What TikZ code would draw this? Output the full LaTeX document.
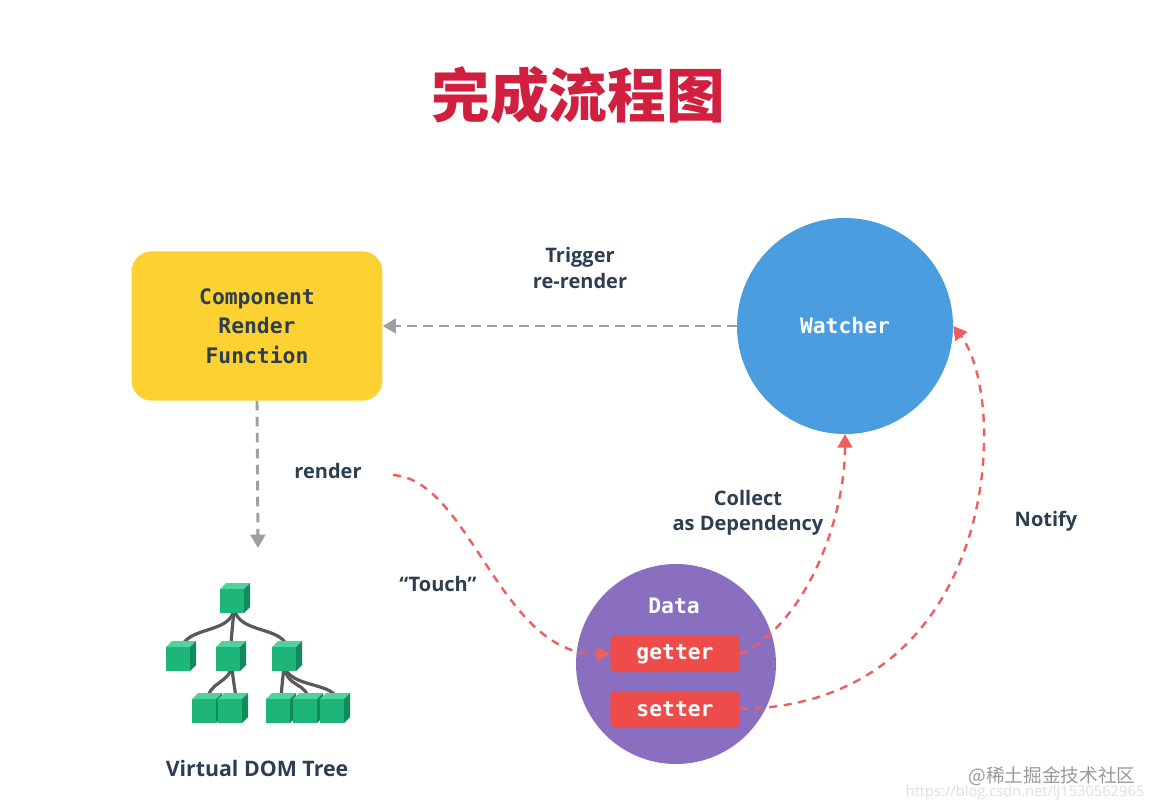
\documentclass[tikz,border=0pt]{standalone}
\usepackage{fontspec}
\setmainfont{Open Sans}
\newfontfamily\cjk{Noto Sans CJK SC}
\newfontfamily\monof{DejaVu Sans Mono}
\usetikzlibrary{arrows.meta}
\definecolor{navy}{HTML}{2C3E50}
\definecolor{ttl}{HTML}{D1203F}
\definecolor{ylw}{HTML}{FCD232}
\definecolor{blu}{HTML}{4A9DDF}
\definecolor{pur}{HTML}{8A6FC1}
\definecolor{rd}{HTML}{EE4B4B}
\definecolor{grn}{HTML}{1DB57A}
\definecolor{grnt}{HTML}{4FD39C}
\definecolor{grnd}{HTML}{138A5C}
\tikzset{
 lbl/.style={text=navy,font=\fontsize{15}{19}\selectfont\bfseries,align=center},
 mono/.style={font=\monof\fontsize{16}{22}\selectfont\bfseries,align=center},
 gdash/.style={draw=gray!75,line width=2.2pt,dash pattern=on 7pt off 5pt,-{Triangle[length=10pt,width=11pt]}},
 rdash/.style={draw=rd!90,line width=1.8pt,dash pattern=on 6pt off 5pt,-{Triangle[length=10pt,width=11pt]}},
 branch/.style={draw=gray!70!black,line width=2.4pt},
 pill/.style={fill=rd,rounded corners=3pt,minimum width=97pt,minimum height=27pt,text=white,mono,inner sep=0pt}
}
\newcommand{\cube}[3]{% name, x, y (center of front)
 \fill[grnt] (#2-12,#3-12)--(#2-6,#3-18)--(#2+18,#3-18)--(#2+12,#3-12)--cycle;
 \fill[grnd] (#2+12,#3-12)--(#2+18,#3-18)--(#2+18,#3+6)--(#2+12,#3+12)--cycle;
 \node[fill=grn,minimum size=18pt,inner sep=0pt] (#1) at (#2,#3) {};
}
\begin{document}
\begin{tikzpicture}[x=0.75pt,y=-0.75pt]
\useasboundingbox (0,0) rectangle (1155,810);
\fill[white] (0,0) rectangle (1155,810);
\node[text=ttl,font=\cjk\fontsize{44}{50}\selectfont\bfseries] (title) at (578,95) {完成流程图};
\node[fill=ylw,rounded corners=15pt,minimum width=188pt,minimum height=112pt,text=navy,mono] (comp) at (257,326) {Component\\Render\\Function};
\node[circle,fill=blu,minimum size=162pt,text=white,mono] (watch) at (845,326) {Watcher};
\node[circle,fill=pur,minimum size=150pt] (data) at (676,664) {};
\node[text=white,mono] (dlabel) at (674,606) {Data};
\node[pill] (get) at (675,654) {getter};
\node[pill] (set) at (675,709) {setter};
\node[lbl] (trig) at (580,268) {Trigger\\re-render};
\node[lbl] (rend) at (328,471) {render};
\node[lbl] (touch) at (438,584) {“Touch”};
\node[lbl] (coll) at (748,513) {Collect\\as Dependency};
\node[lbl] (notify) at (1046,521) {Notify};
\node[lbl,font=\fontsize{16}{19}\selectfont\bfseries] (vdom) at (257,768) {Virtual DOM Tree};
\node[text=gray!80,font=\cjk\fontsize{14}{16}\selectfont] (wm) at (1052,776) {@稀土掘金技术社区};
\node[text=gray!25,font=\fontsize{11}{13}\selectfont] (url) at (1025,793) {https://blog.csdn.net/lj1530562965};
\coordinate (vtop) at (258,548);
\coordinate (rstart) at (393,475);
\draw[gdash] (watch.west) -- (comp.east);
\draw[gdash] (comp.south) -- (vtop);
\draw[rdash] (rstart) .. controls (470,480) and (500,655) .. (get.west);
\draw[rdash] (get.east) .. controls (805,625) and (845,520) .. (watch.south);
\draw[rdash] (set.east) .. controls (1000,705) and (1010,400) .. (watch.east);
% tree edges
\draw[branch] (234,608) .. controls (232,635) and (185,625) .. (181,650);
\draw[branch] (234,608) .. controls (233,625) and (231,635) .. (231,650);
\draw[branch] (234,608) .. controls (238,635) and (285,625) .. (288,650);
\draw[branch] (232,664) .. controls (230,685) and (208,680) .. (207,703);
\draw[branch] (232,664) .. controls (233,685) and (236,690) .. (236,703);
\draw[branch] (284,664) .. controls (283,680) and (281,690) .. (281,703);
\draw[branch] (284,664) .. controls (286,690) and (308,680) .. (309,703);
\draw[branch] (284,664) .. controls (288,690) and (337,680) .. (338,703);
\cube{c0}{232}{601}
\cube{c1}{178}{659}
\cube{c2}{228}{659}
\cube{c3}{284}{659}
\cube{c4}{204}{711}
\cube{c5}{230}{711}
\cube{c6}{278}{711}
\cube{c7}{305}{711}
\cube{c8}{332}{711}
\end{tikzpicture}
\end{document}
